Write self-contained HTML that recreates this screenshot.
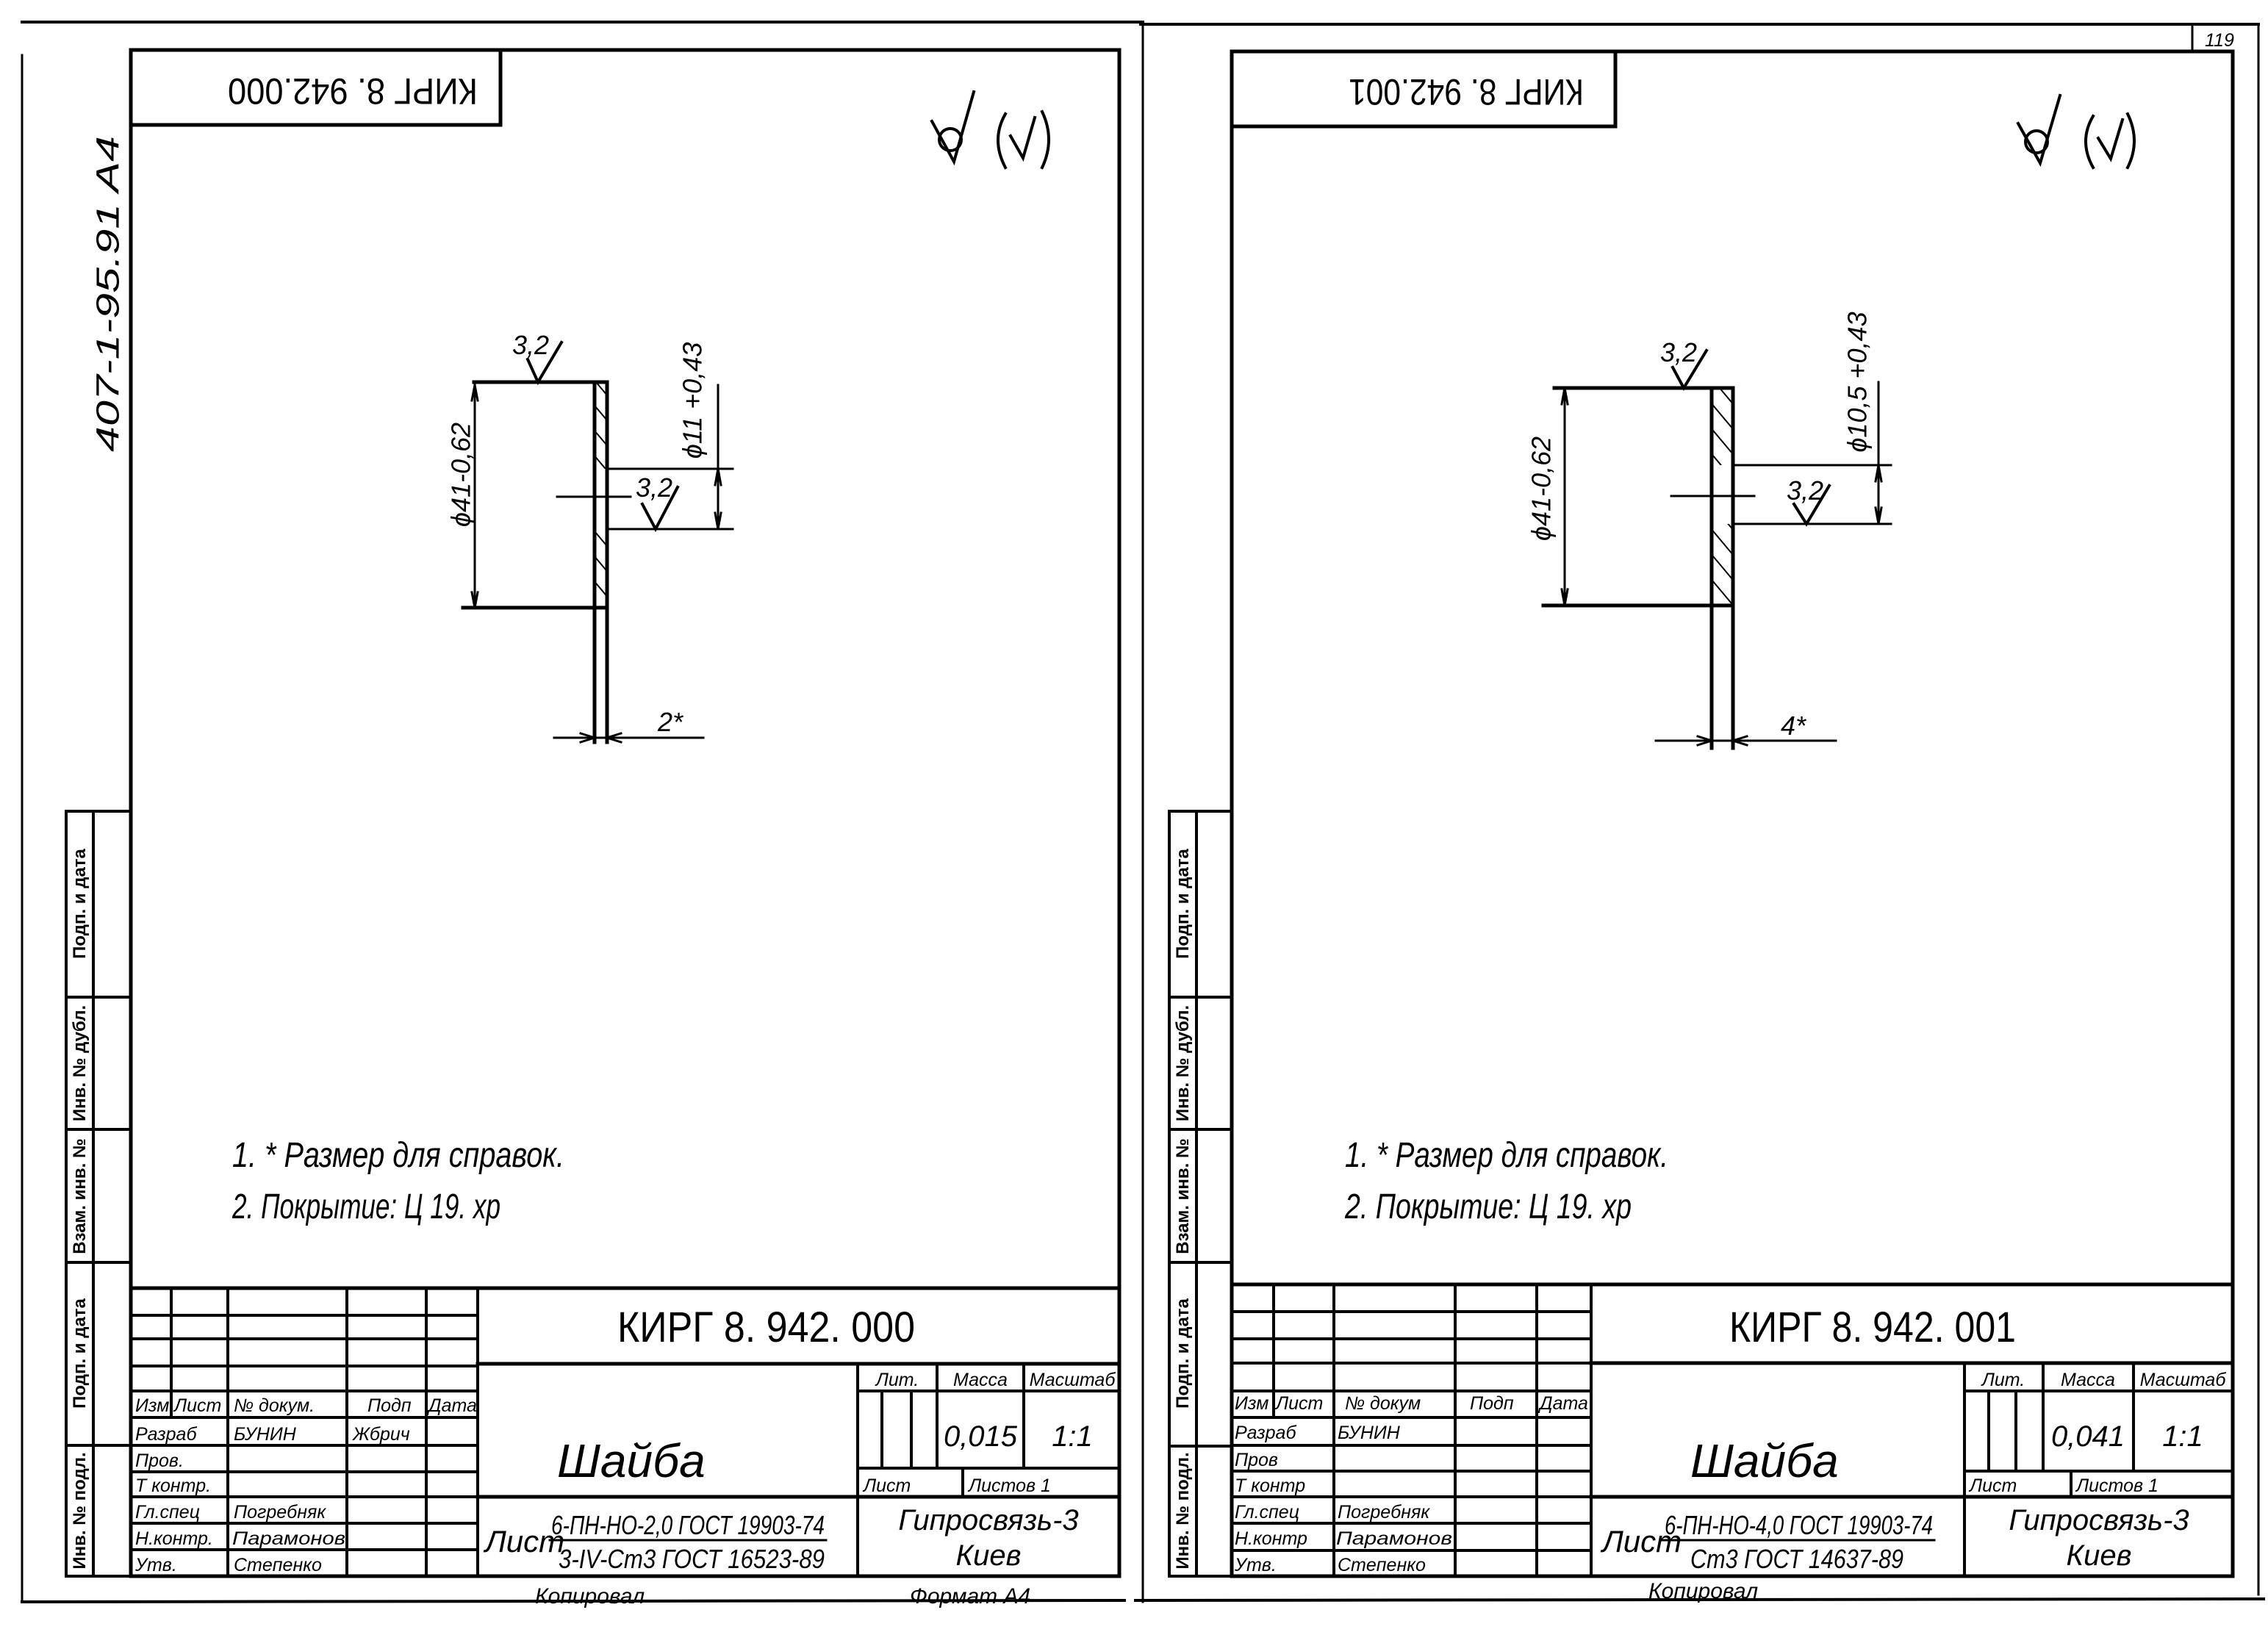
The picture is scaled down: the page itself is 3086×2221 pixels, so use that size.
<!DOCTYPE html>
<html><head><meta charset="utf-8"><style>
html,body{margin:0;padding:0;background:#fff}
svg{display:block}
text{font-family:"Liberation Sans","DejaVu Sans",sans-serif;fill:#000}
.it{font-style:italic}
</style></head><body>
<svg width="3086" height="2221" viewBox="0 0 3086 2221" xmlns="http://www.w3.org/2000/svg">
<defs>
<pattern id="h" width="22" height="22" patternUnits="userSpaceOnUse" patternTransform="rotate(-40)">
<line x1="0" y1="0" x2="0" y2="22" stroke="#000" stroke-width="4"/></pattern>
</defs>
<g stroke="#000" fill="none" stroke-linecap="square">
<path d="M30 30 L1555 30 M3073 33 L1552 33" stroke-width="4"/>
<path d="M30 75 L30 2180 M1555 30 L1555 2180 M3073 33 L3073 2170" stroke-width="3"/>
<path d="M30 2180 L1530 2178 M1545 2178 L3080 2176" stroke-width="4"/>
<rect x="178" y="68" width="1345" height="2077" stroke-width="5"/>
<rect x="178" y="68" width="503" height="102" stroke-width="5"/>
<path d="M90 1104 L178 1104 M90 1104 L90 2145 L178 2145 M127 1104 L127 2145 M90 1357 L178 1357 M90 1537 L178 1537 M90 1718 L178 1718 M90 1967 L178 1967" stroke-width="4"/>
<path d="M178 1753 L1523 1753 M650 1856 L1523 1856 M650 2037 L1523 2037" stroke-width="5"/>
<path d="M178 1790 L650 1790 M178 1822 L650 1822 M178 1859 L650 1859 M178 1893 L650 1893 M178 1929 L650 1929 M178 1967 L650 1967 M178 2003 L650 2003 M178 2037 L650 2037 M178 2073 L650 2073 M178 2109 L650 2109" stroke-width="4"/>
<path d="M233 1753 L233 1929 M310 1753 L310 2145 M472 1753 L472 2145 M580 1753 L580 2145 M650 1753 L650 2145 M1167 1856 L1167 2145" stroke-width="4"/>
<path d="M1167 1893 L1523 1893 M1167 1998 L1523 1998 M1275 1856 L1275 1998 M1393 1856 L1393 1998 M1200 1893 L1200 1998 M1240 1893 L1240 1998 M1310 1998 L1310 2037" stroke-width="4"/>
<path d="M748 2096 L1124 2096" stroke-width="3"/>
<rect x="1676" y="70" width="1362" height="2075" stroke-width="5"/>
<rect x="1676" y="70" width="522" height="102" stroke-width="5"/>
<path d="M2983 33 L2983 70" stroke-width="3"/>
<path d="M1591 1104 L1676 1104 M1591 1104 L1591 2145 L1676 2145 M1628 1104 L1628 2145 M1591 1357 L1676 1357 M1591 1537 L1676 1537 M1591 1718 L1676 1718 M1591 1968 L1676 1968" stroke-width="4"/>
<path d="M1676 1748 L3038 1748 M2165 1855 L3038 1855 M2165 2037 L3038 2037" stroke-width="5"/>
<path d="M1676 1785 L2165 1785 M1676 1822 L2165 1822 M1676 1855 L2165 1855 M1676 1893 L2165 1893 M1676 1929 L2165 1929 M1676 1967 L2165 1967 M1676 2002 L2165 2002 M1676 2037 L2165 2037 M1676 2073 L2165 2073 M1676 2110 L2165 2110" stroke-width="4"/>
<path d="M1733 1748 L1733 1929 M1815 1748 L1815 2145 M1980 1748 L1980 2145 M2091 1748 L2091 2145 M2165 1748 L2165 2145 M2673 1855 L2673 2145" stroke-width="4"/>
<path d="M2673 1893 L3038 1893 M2673 2002 L3038 2002 M2780 1855 L2780 2002 M2903 1855 L2903 2002 M2706 1893 L2706 2002 M2743 1893 L2743 2002 M2818 2002 L2818 2037" stroke-width="4"/>
<path d="M2262 2096 L2632 2096" stroke-width="3"/>

<rect x="809" y="520" width="17" height="118" fill="url(#h)" stroke="none"/>
<rect x="809" y="720" width="17" height="107" fill="url(#h)" stroke="none"/>
<path d="M645 520 L826 520 M630 827 L826 827 M809 520 L809 1010 M826 520 L826 1010" stroke-width="5"/>
<path d="M826 638 L997 638 M826 720 L997 720 M977 524 L977 720 M646 524 L646 827 M758 676 L858 676 M754 1004 L957 1004" stroke-width="3"/>
<path d="M642 545 L646 524 L650 545 M642 806 L646 827 L650 806 M973 660 L977 638 L981 660 M973 698 L977 720 L981 698 M790 998 L809 1004 L790 1010 M845 998 L826 1004 L845 1010" stroke-width="3"/>
<path d="M718 489 L732 520 L764 466 M874 686 L892 720 L922 663" stroke-width="4"/>

<rect x="2329" y="528" width="29" height="105" fill="url(#h)" stroke="none"/>
<rect x="2329" y="713" width="29" height="111" fill="url(#h)" stroke="none"/>
<path d="M2115 528 L2358 528 M2100 824 L2358 824 M2329 528 L2329 1018 M2358 528 L2358 1018" stroke-width="5"/>
<path d="M2358 633 L2573 633 M2358 713 L2573 713 M2556 520 L2556 713 M2129 528 L2129 824 M2274 675 L2387 675 M2253 1008 L2498 1008" stroke-width="3"/>
<path d="M2125 550 L2129 528 L2133 550 M2125 802 L2129 824 L2133 802 M2552 655 L2556 633 L2560 655 M2552 691 L2556 713 L2560 691 M2310 1002 L2329 1008 L2310 1014 M2377 1002 L2358 1008 L2377 1014" stroke-width="3"/>
<path d="M2276 500 L2291 528 L2322 477 M2441 686 L2458 713 L2489 661" stroke-width="4"/>

<g stroke-width="4">
<circle cx="1293" cy="190" r="15"/><path d="M1268 165 L1298 220 L1325 125"/>
<path d="M1368 155 Q1348 190 1368 228 M1418 152 Q1436 190 1418 228 M1375 185 L1392 215 L1408 160"/>
<circle cx="2771" cy="193" r="15"/><path d="M2746 168 L2776 222 L2803 130"/>
<path d="M2848 158 Q2828 192 2848 228 M2895 155 Q2913 192 2895 228 M2855 188 L2872 216 L2888 163"/>
</g>
</g>

<text transform="translate(480,120) rotate(180)" font-size="50" text-anchor="middle" dominant-baseline="middle" textLength="340" lengthAdjust="spacingAndGlyphs">КИРГ 8. 942.000</text>
<text transform="translate(1995,121) rotate(180)" font-size="50" text-anchor="middle" dominant-baseline="middle" textLength="320" lengthAdjust="spacingAndGlyphs">КИРГ 8. 942.001</text>
<text transform="translate(150,400) rotate(-90)" font-size="44" class="it" text-anchor="middle" dominant-baseline="middle" textLength="430" lengthAdjust="spacingAndGlyphs">407-1-95.91   A4</text>
<g font-size="24" font-weight="bold" text-anchor="middle">
<text transform="translate(116,1230) rotate(-90)">Подп. и дата</text>
<text transform="translate(116,1447) rotate(-90)">Инв. № дубл.</text>
<text transform="translate(116,1628) rotate(-90)">Взам. инв. №</text>
<text transform="translate(116,1842) rotate(-90)">Подп. и дата</text>
<text transform="translate(116,2056) rotate(-90)">Инв. № подл.</text>
<text transform="translate(1617,1230) rotate(-90)">Подп. и дата</text>
<text transform="translate(1617,1447) rotate(-90)">Инв. № дубл.</text>
<text transform="translate(1617,1628) rotate(-90)">Взам. инв. №</text>
<text transform="translate(1617,1842) rotate(-90)">Подп. и дата</text>
<text transform="translate(1617,2056) rotate(-90)">Инв. № подл.</text>
</g>
<g class="it" font-size="36">
<text x="722" y="482" text-anchor="middle">3,2</text>
<text x="890" y="676" text-anchor="middle">3,2</text>
<text x="912" y="995" text-anchor="middle">2*</text>
<text transform="translate(630,646) rotate(-90)" text-anchor="middle" dominant-baseline="middle">ϕ41-0,62</text>
<text transform="translate(945,545) rotate(-90)" text-anchor="middle" dominant-baseline="middle">ϕ11 +0,43</text>
<text x="2284" y="492" text-anchor="middle">3,2</text>
<text x="2456" y="680" text-anchor="middle">3,2</text>
<text x="2440" y="1000" text-anchor="middle">4*</text>
<text transform="translate(2100,665) rotate(-90)" text-anchor="middle" dominant-baseline="middle">ϕ41-0,62</text>
<text transform="translate(2530,520) rotate(-90)" text-anchor="middle" dominant-baseline="middle">ϕ10,5 +0,43</text>
</g>
<g class="it" font-size="48">
<text x="316" y="1588" textLength="452" lengthAdjust="spacingAndGlyphs">1. * Размер для справок.</text>
<text x="316" y="1658" textLength="365" lengthAdjust="spacingAndGlyphs">2. Покрытие: Ц 19. хр</text>
<text x="1830" y="1588" textLength="440" lengthAdjust="spacingAndGlyphs">1. * Размер для справок.</text>
<text x="1830" y="1658" textLength="390" lengthAdjust="spacingAndGlyphs">2. Покрытие: Ц 19. хр</text>
</g>
<text x="840" y="1826" font-size="58" textLength="405" lengthAdjust="spacingAndGlyphs">КИРГ 8. 942. 000</text>
<text x="2353" y="1826" font-size="58" textLength="390" lengthAdjust="spacingAndGlyphs">КИРГ 8. 942. 001</text>
<text x="758" y="2010" font-size="64" class="it">Шайба</text>
<text x="2300" y="2010" font-size="64" class="it">Шайба</text>

<g class="it" font-size="25">
<text x="184" y="1921">Изм</text><text x="237" y="1921">Лист</text><text x="318" y="1921">№ докум.</text><text x="500" y="1921">Подп</text><text x="583" y="1921">Дата</text>
<text x="184" y="1960">Разраб</text><text x="318" y="1960">БУНИН</text><text x="480" y="1960">Жбрич</text>
<text x="184" y="1996">Пров.</text>
<text x="184" y="2030">Т контр.</text>
<text x="184" y="2066">Гл.спец</text><text x="318" y="2066">Погребняк</text>
<text x="184" y="2102">Н.контр.</text><text x="316" y="2102" textLength="154" lengthAdjust="spacingAndGlyphs">Парамонов</text>
<text x="184" y="2138">Утв.</text><text x="318" y="2138">Степенко</text>
<text x="1221" y="1886" text-anchor="middle">Лит.</text><text x="1334" y="1886" text-anchor="middle">Масса</text><text x="1459" y="1886" text-anchor="middle">Масштаб</text>
<text x="1175" y="2030">Лист</text><text x="1318" y="2030">Листов 1</text>
<text x="1680" y="1918">Изм</text><text x="1736" y="1918">Лист</text><text x="1830" y="1918">№ докум</text><text x="2000" y="1918">Подп</text><text x="2095" y="1918">Дата</text>
<text x="1680" y="1958">Разраб</text><text x="1820" y="1958">БУНИН</text>
<text x="1680" y="1995">Пров</text>
<text x="1680" y="2030">Т контр</text>
<text x="1680" y="2066">Гл.спец</text><text x="1820" y="2066">Погребняк</text>
<text x="1680" y="2102">Н.контр</text><text x="1818" y="2102" textLength="158" lengthAdjust="spacingAndGlyphs">Парамонов</text>
<text x="1680" y="2138">Утв.</text><text x="1820" y="2138">Степенко</text>
<text x="2726" y="1886" text-anchor="middle">Лит.</text><text x="2841" y="1886" text-anchor="middle">Масса</text><text x="2970" y="1886" text-anchor="middle">Масштаб</text>
<text x="2680" y="2030">Лист</text><text x="2825" y="2030">Листов 1</text>
<text x="3000" y="63">119</text>
</g>
<g class="it" font-size="40">
<text x="1334" y="1968" text-anchor="middle">0,015</text><text x="1459" y="1968" text-anchor="middle">1:1</text>
<text x="2841" y="1968" text-anchor="middle">0,041</text><text x="2970" y="1968" text-anchor="middle">1:1</text>
</g>
<g class="it" font-size="36">
<text x="660" y="2112" font-size="42">Лист</text>
<text x="750" y="2088" textLength="372" lengthAdjust="spacingAndGlyphs">6-ПН-НО-2,0 ГОСТ 19903-74</text>
<text x="760" y="2134" textLength="362" lengthAdjust="spacingAndGlyphs">3-IV-Ст3 ГОСТ 16523-89</text>
<text x="1345" y="2082" text-anchor="middle" font-size="40">Гипросвязь-3</text>
<text x="1345" y="2130" text-anchor="middle" font-size="40">Киев</text>
<text x="728" y="2182" font-size="30">Копировал</text>
<text x="1238" y="2182" font-size="30">Формат  А4</text>
<text x="2180" y="2112" font-size="42">Лист</text>
<text x="2265" y="2088" textLength="365" lengthAdjust="spacingAndGlyphs">6-ПН-НО-4,0 ГОСТ 19903-74</text>
<text x="2300" y="2134" textLength="290" lengthAdjust="spacingAndGlyphs">Ст3  ГОСТ 14637-89</text>
<text x="2856" y="2082" text-anchor="middle" font-size="40">Гипросвязь-3</text>
<text x="2856" y="2130" text-anchor="middle" font-size="40">Киев</text>
<text x="2243" y="2175" font-size="30">Копировал</text>
</g>
</svg>
</body></html>
